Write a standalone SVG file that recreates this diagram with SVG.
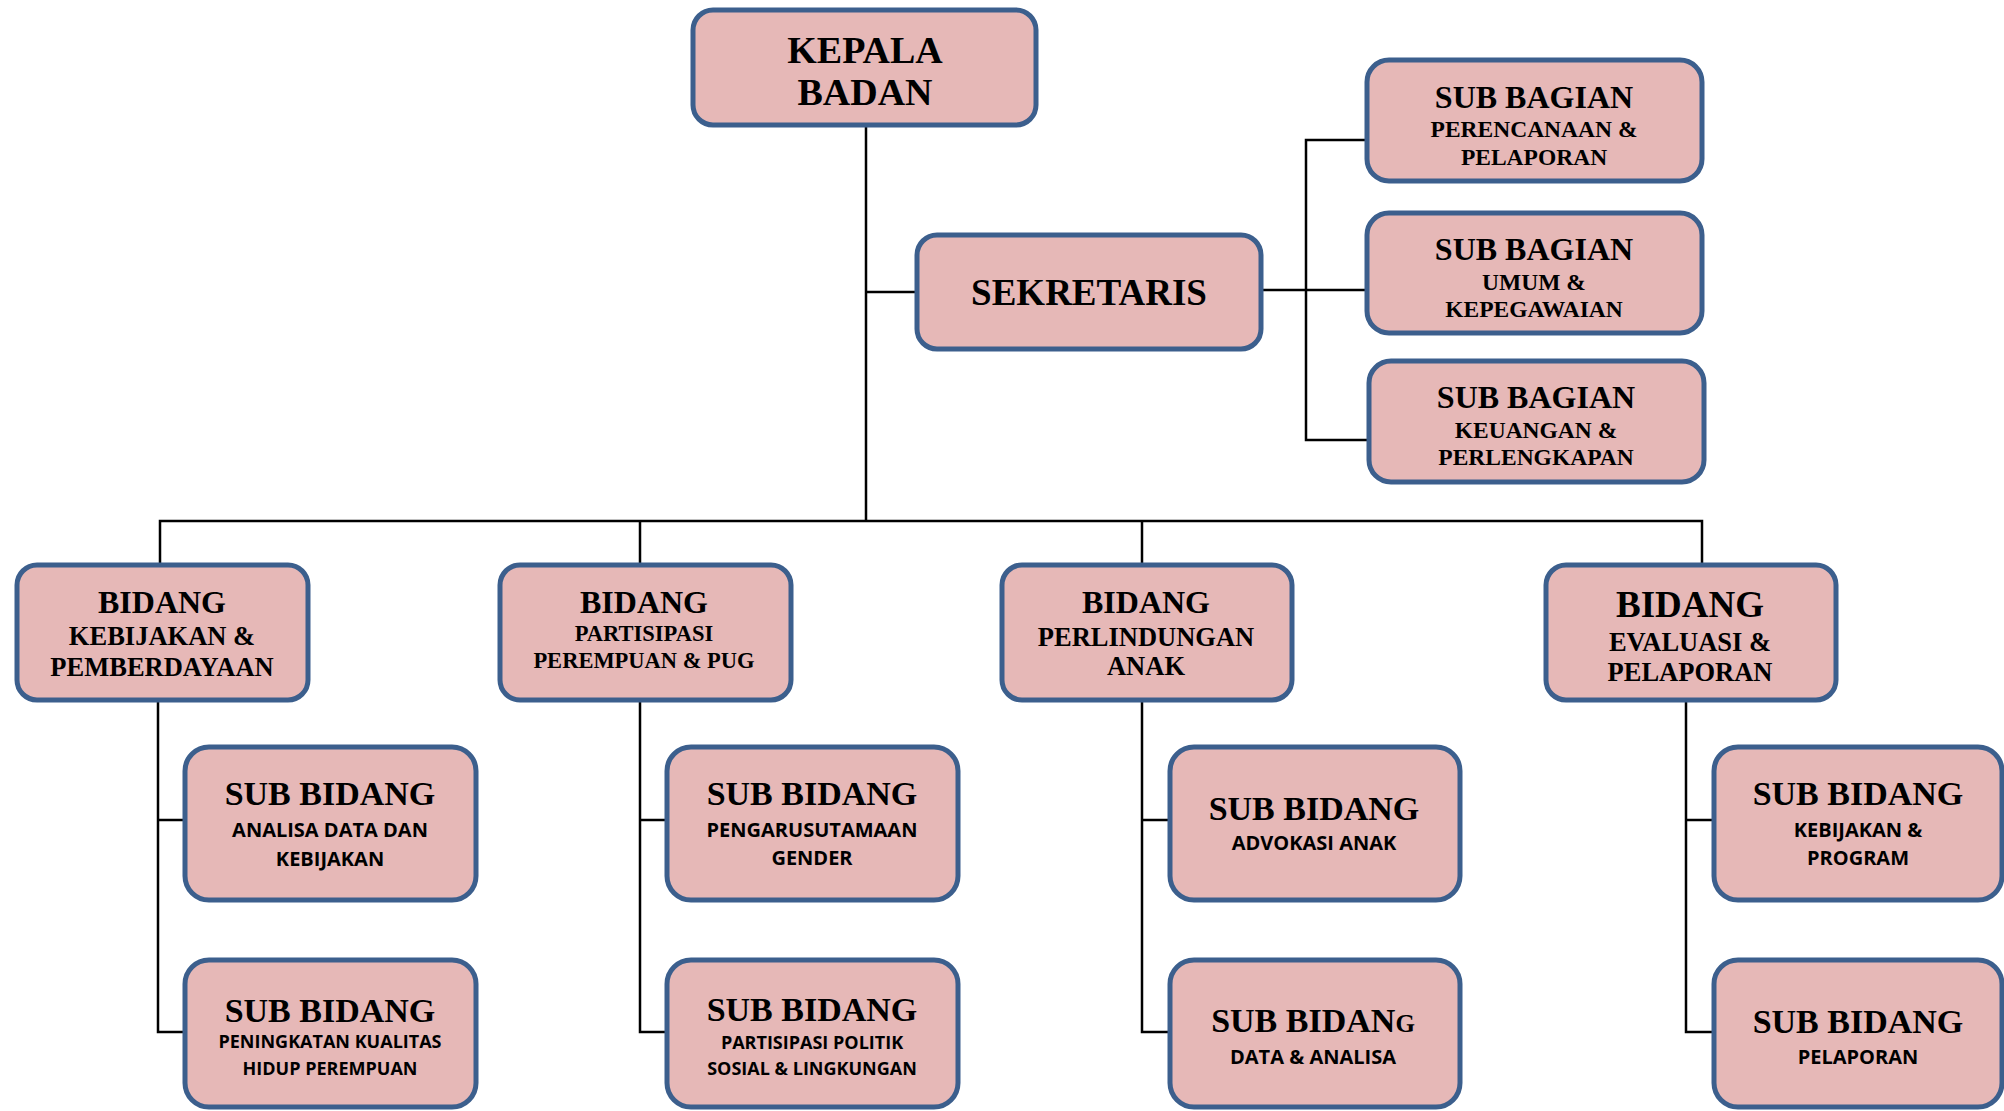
<svg xmlns="http://www.w3.org/2000/svg" width="2004" height="1111" viewBox="0 0 2004 1111">
<style>
.box{fill:#E6B8B7;stroke:#3C5F8D;stroke-width:5}
.ln{fill:none;stroke:#000;stroke-width:2.5}
.sf{font-family:"Liberation Serif","Times New Roman",serif;font-weight:bold;fill:#000;text-anchor:middle}
.ss{font-family:"Open Sans","Noto Sans",sans-serif;font-weight:bold;fill:#000;text-anchor:middle}
</style>
<rect width="2004" height="1111" fill="#fff"/>
<g id="connectors">
<path class="ln" d="M866,126 V521"/>
<path class="ln" d="M866,292 H917"/>
<path class="ln" d="M1261,290 H1367"/>
<path class="ln" d="M1367,140 H1306 V440 H1369"/>
<path class="ln" d="M160,565 V521 H1702 V565"/>
<path class="ln" d="M640,521 V565"/>
<path class="ln" d="M1142,521 V565"/>
<path class="ln" d="M185,820 H158 V700 M158,820 V1032 H185"/>
<path class="ln" d="M667,820 H640 V700 M640,820 V1032 H667"/>
<path class="ln" d="M1170,820 H1142 V700 M1142,820 V1032 H1170"/>
<path class="ln" d="M1714,820 H1686 V700 M1686,820 V1032 H1714"/>
</g>
<g id="kepala">
<rect class="box" x="693" y="10" width="343" height="115" rx="20"/>
<text class="sf" x="865" y="63" font-size="38">KEPALA</text>
<text class="sf" x="865" y="105" font-size="38">BADAN</text>
</g>
<g id="sekretaris">
<rect class="box" x="917" y="235" width="344" height="114" rx="20"/>
<text class="sf" x="1089" y="305" font-size="37">SEKRETARIS</text>
</g>
<g id="sub-bagian-1">
<rect class="box" x="1367" y="60" width="335" height="121" rx="22"/>
<text class="sf" x="1534" y="108" font-size="32">SUB BAGIAN</text>
<text class="sf" x="1534" y="137" font-size="23.5">PERENCANAAN &amp;</text>
<text class="sf" x="1534" y="165" font-size="23.5">PELAPORAN</text>
</g>
<g id="sub-bagian-2">
<rect class="box" x="1367" y="213" width="335" height="120" rx="22"/>
<text class="sf" x="1534" y="260" font-size="32">SUB BAGIAN</text>
<text class="sf" x="1534" y="290" font-size="23.5">UMUM &amp;</text>
<text class="sf" x="1534" y="317" font-size="23.5">KEPEGAWAIAN</text>
</g>
<g id="sub-bagian-3">
<rect class="box" x="1369" y="361" width="335" height="121" rx="22"/>
<text class="sf" x="1536" y="408" font-size="32">SUB BAGIAN</text>
<text class="sf" x="1536" y="438" font-size="23.5">KEUANGAN &amp;</text>
<text class="sf" x="1536" y="465" font-size="23.5">PERLENGKAPAN</text>
</g>
<g id="bidang-1">
<rect class="box" x="17" y="565" width="291" height="135" rx="20"/>
<text class="sf" x="162" y="613" font-size="32">BIDANG</text>
<text class="sf" x="162" y="645" font-size="26.5">KEBIJAKAN &amp;</text>
<text class="sf" x="162" y="676" font-size="26.5">PEMBERDAYAAN</text>
</g>
<g id="bidang-2">
<rect class="box" x="500" y="565" width="291" height="135" rx="20"/>
<text class="sf" x="644" y="613" font-size="32">BIDANG</text>
<text class="sf" x="644" y="641" font-size="22.5">PARTISIPASI</text>
<text class="sf" x="644" y="668" font-size="22.5">PEREMPUAN &amp; PUG</text>
</g>
<g id="bidang-3">
<rect class="box" x="1002" y="565" width="290" height="135" rx="20"/>
<text class="sf" x="1146" y="613" font-size="32">BIDANG</text>
<text class="sf" x="1146" y="646" font-size="26.5">PERLINDUNGAN</text>
<text class="sf" x="1146" y="675" font-size="26.5">ANAK</text>
</g>
<g id="bidang-4">
<rect class="box" x="1546" y="565" width="290" height="135" rx="20"/>
<text class="sf" x="1690" y="617" font-size="37">BIDANG</text>
<text class="sf" x="1690" y="651" font-size="26.5">EVALUASI &amp;</text>
<text class="sf" x="1690" y="681" font-size="26.5">PELAPORAN</text>
</g>
<g id="sub-bidang-1a">
<rect class="box" x="185" y="747" width="291" height="153" rx="24"/>
<text class="sf" x="330" y="805" font-size="34">SUB BIDANG</text>
<text class="ss" x="330" y="837" font-size="20">ANALISA DATA DAN</text>
<text class="ss" x="330" y="866" font-size="20">KEBIJAKAN</text>
</g>
<g id="sub-bidang-1b">
<rect class="box" x="185" y="960" width="291" height="147" rx="24"/>
<text class="sf" x="330" y="1022" font-size="34">SUB BIDANG</text>
<text class="ss" x="330" y="1048" font-size="18">PENINGKATAN KUALITAS</text>
<text class="ss" x="330" y="1075" font-size="18">HIDUP PEREMPUAN</text>
</g>
<g id="sub-bidang-2a">
<rect class="box" x="667" y="747" width="291" height="153" rx="24"/>
<text class="sf" x="812" y="805" font-size="34">SUB BIDANG</text>
<text class="ss" x="812" y="837" font-size="20">PENGARUSUTAMAAN</text>
<text class="ss" x="812" y="865" font-size="20">GENDER</text>
</g>
<g id="sub-bidang-2b">
<rect class="box" x="667" y="960" width="291" height="147" rx="24"/>
<text class="sf" x="812" y="1021" font-size="34">SUB BIDANG</text>
<text class="ss" x="812" y="1049" font-size="18">PARTISIPASI POLITIK</text>
<text class="ss" x="812" y="1075" font-size="18">SOSIAL &amp; LINGKUNGAN</text>
</g>
<g id="sub-bidang-3a">
<rect class="box" x="1170" y="747" width="290" height="153" rx="24"/>
<text class="sf" x="1314" y="820" font-size="34">SUB BIDANG</text>
<text class="ss" x="1314" y="850" font-size="20">ADVOKASI ANAK</text>
</g>
<g id="sub-bidang-3b">
<rect class="box" x="1170" y="960" width="290" height="147" rx="24"/>
<text class="sf" x="1313" y="1032" font-size="34">SUB BIDAN<tspan font-size="25">G</tspan></text>
<text class="ss" x="1313" y="1064" font-size="20">DATA &amp; ANALISA</text>
</g>
<g id="sub-bidang-4a">
<rect class="box" x="1714" y="747" width="288" height="153" rx="24"/>
<text class="sf" x="1858" y="805" font-size="34">SUB BIDANG</text>
<text class="ss" x="1858" y="837" font-size="20">KEBIJAKAN &amp;</text>
<text class="ss" x="1858" y="865" font-size="20">PROGRAM</text>
</g>
<g id="sub-bidang-4b">
<rect class="box" x="1714" y="960" width="288" height="147" rx="24"/>
<text class="sf" x="1858" y="1033" font-size="34">SUB BIDANG</text>
<text class="ss" x="1858" y="1064" font-size="20">PELAPORAN</text>
</g>
</svg>
